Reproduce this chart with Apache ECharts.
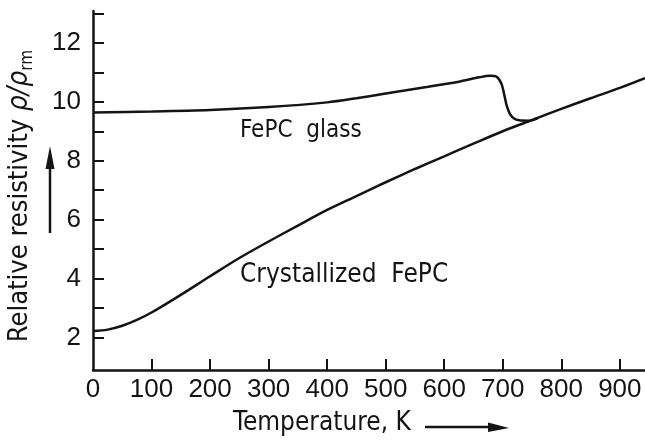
<!DOCTYPE html>
<html>
<head>
<meta charset="utf-8">
<script src="https://cdn.jsdelivr.net/npm/echarts@6/dist/echarts.min.js"></script>
<style>
  html, body { margin: 0; padding: 0; background: #fff; }
  #chart { width: 645px; height: 440px; }
</style>
</head>
<body>
<div id="chart"></div>
<script>
// temperature (K) vs relative resistivity
const glassT = [0, 100, 200, 300, 400, 450, 500, 570, 627, 660, 678, 690, 698, 703, 707, 712, 718, 728, 745, 760];
const glassRho = [9.64, 9.67, 9.72, 9.82, 9.98, 10.12, 10.28, 10.5, 10.69, 10.83, 10.88, 10.84, 10.6, 10.2, 9.85, 9.6, 9.45, 9.37, 9.36, 9.45];

const crystT = [0, 25, 50, 75, 100, 150, 200, 250, 300, 350, 400, 450, 500, 550, 600, 650, 700, 750, 800, 850, 900, 943];
const crystRho = [2.22, 2.27, 2.4, 2.6, 2.85, 3.45, 4.08, 4.7, 5.26, 5.8, 6.33, 6.8, 7.27, 7.72, 8.15, 8.58, 9.0, 9.38, 9.76, 10.12, 10.47, 10.8];

const xLabels = [0, 100, 200, 300, 400, 500, 600, 700, 800, 900];
const xTicks = [100, 200, 300, 400, 500, 600, 700, 800, 900];
const yLabels = [2, 4, 6, 8, 10, 12];
const yTicks = [2, 3, 4, 5, 6, 7, 8, 9, 10, 11, 12, 13];

const ink = '#141414';
const labelFont = '"DejaVu Sans Condensed", "DejaVu Sans", sans-serif';
const numFont = '"Liberation Sans Narrow", "Liberation Sans", sans-serif';

const pairs = (xs, ys) => xs.map((x, i) => [x, ys[i]]);

const chart = echarts.init(document.getElementById('chart'));
chart.setOption({
  backgroundColor: '#fff',
  animation: false,
  grid: { left: 93, right: 0, top: 11, bottom: 70 },
  xAxis: {
    type: 'value',
    min: 0,
    max: 943,
    axisLine: { lineStyle: { color: ink, width: 2.5 } },
    axisTick: { inside: true, length: 11, customValues: xTicks, lineStyle: { color: ink, width: 2 } },
    axisLabel: { customValues: xLabels, margin: 7, color: ink, fontSize: 26, fontFamily: numFont },
    splitLine: { show: false }
  },
  yAxis: {
    type: 'value',
    min: 0.9,
    max: 13.08,
    axisLine: { show: true, lineStyle: { color: ink, width: 2.5 } },
    axisTick: { show: true, inside: true, length: 11, customValues: yTicks, lineStyle: { color: ink, width: 2 } },
    axisLabel: { customValues: yLabels, margin: 12, color: ink, fontSize: 26, fontFamily: numFont },
    splitLine: { show: false }
  },
  series: [
    {
      name: 'FePC glass',
      type: 'line',
      data: pairs(glassT, glassRho),
      smooth: 0.3,
      showSymbol: false,
      lineStyle: { color: ink, width: 2.5 },
      z: 3
    },
    {
      name: 'Crystallized FePC',
      type: 'line',
      data: pairs(crystT, crystRho),
      smooth: 0.3,
      showSymbol: false,
      lineStyle: { color: ink, width: 2.5 },
      z: 3
    }
  ],
  graphic: [
    {
      type: 'text', left: 240, top: 119,
      style: { text: 'FePC  glass', fill: ink, font: '24px ' + labelFont }
    },
    {
      type: 'text', left: 240, top: 262,
      style: { text: 'Crystallized  FePC', fill: ink, font: '26px ' + labelFont }
    },
    {
      type: 'text', x: 322, y: 423,
      style: { text: 'Temperature, K', fill: ink, font: '26px ' + labelFont, align: 'center', verticalAlign: 'middle' }
    },
    {
      type: 'line', shape: { x1: 425, y1: 427, x2: 492, y2: 427 },
      style: { stroke: ink, lineWidth: 2.5 }
    },
    {
      type: 'polygon', shape: { points: [[488, 422.5], [509, 428], [488, 432]] },
      style: { fill: ink }
    },
    {
      type: 'text', x: 20, y: 196, rotation: Math.PI / 2,
      style: {
        text: 'Relative resistivity {i|ρ/ρ}{s|rm}',
        fill: ink,
        font: '27px ' + labelFont,
        align: 'center',
        verticalAlign: 'middle',
        rich: {
          i: { fontStyle: 'italic', fontSize: 28, fontFamily: labelFont, fill: ink },
          s: { fontSize: 17, fontFamily: labelFont, fill: ink, padding: [15, 0, 0, 0] }
        }
      }
    },
    {
      type: 'line', shape: { x1: 50, y1: 233, x2: 50, y2: 165 },
      style: { stroke: ink, lineWidth: 2.5 }
    },
    {
      type: 'polygon', shape: { points: [[45.5, 169], [50, 146], [54.5, 169]] },
      style: { fill: ink }
    }
  ]
});
</script>
</body>
</html>
